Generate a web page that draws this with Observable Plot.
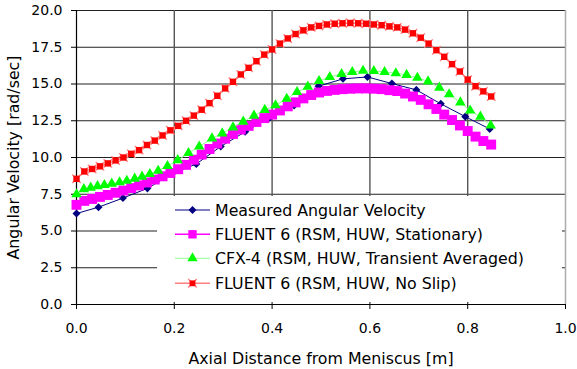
<!DOCTYPE html>
<html><head><meta charset="utf-8">
<script src="https://cdn.jsdelivr.net/npm/d3@7"></script>
<script src="https://cdn.jsdelivr.net/npm/@observablehq/plot@0.6"></script>
<style>
body{margin:0;background:#fff}
#wrap{position:relative;width:577px;height:369px}
</style></head>
<body><div id="wrap"></div>
<script>
const xTicks = [0, 0.2, 0.4, 0.6, 0.8, 1.0];
const yTicks = [0, 2.5, 5, 7.5, 10, 12.5, 15, 17.5, 20];
const xLabel = "Axial Distance from Meniscus [m]";
const yLabel = "Angular Velocity [rad/sec]";
const seriesNames = [
  "Measured Angular Velocity",
  "FLUENT 6 (RSM, HUW, Stationary)",
  "CFX-4 (RSM, HUW, Transient Averaged)",
  "FLUENT 6 (RSM, HUW, No Slip)"
];

const measuredX = [0, 0.045, 0.095, 0.145, 0.195, 0.245, 0.295, 0.345, 0.395, 0.445, 0.495, 0.545, 0.595, 0.645, 0.695, 0.745, 0.795, 0.845];
const measuredY = [6.19, 6.62, 7.24, 7.9, 8.88, 9.56, 10.75, 11.75, 12.7, 13.53, 14.85, 15.35, 15.48, 15.03, 14.6, 13.65, 12.78, 11.94];

const xFine = [0, 0.016, 0.032, 0.048, 0.064, 0.08, 0.096, 0.112, 0.128, 0.144, 0.16, 0.176, 0.192, 0.208, 0.224, 0.24, 0.256, 0.272, 0.288, 0.304, 0.32, 0.336, 0.352, 0.368, 0.384, 0.4, 0.416, 0.432, 0.448, 0.464, 0.48, 0.496, 0.512, 0.528, 0.544, 0.56, 0.576, 0.592, 0.608, 0.624, 0.64, 0.656, 0.672, 0.688, 0.704, 0.72, 0.736, 0.752, 0.768, 0.784, 0.8, 0.816, 0.832, 0.848];
const stationaryY = [6.78, 7.05, 7.18, 7.32, 7.45, 7.6, 7.75, 7.92, 8.1, 8.3, 8.5, 8.72, 8.95, 9.2, 9.5, 9.85, 10.2, 10.58, 10.95, 11.28, 11.6, 11.9, 12.15, 12.42, 12.68, 12.92, 13.2, 13.48, 13.75, 14.02, 14.25, 14.42, 14.53, 14.6, 14.65, 14.68, 14.7, 14.7, 14.68, 14.65, 14.58, 14.52, 14.35, 14.15, 13.92, 13.62, 13.3, 12.92, 12.55, 12.18, 11.8, 11.42, 11.12, 10.88];
const noSlipY = [8.55, 9.05, 9.22, 9.4, 9.6, 9.8, 10.0, 10.25, 10.5, 10.85, 11.15, 11.5, 11.85, 12.15, 12.5, 12.85, 13.25, 13.7, 14.2, 14.7, 15.15, 15.65, 16.1, 16.55, 17.0, 17.35, 17.75, 18.1, 18.4, 18.65, 18.85, 18.95, 19.05, 19.1, 19.13, 19.15, 19.13, 19.1, 19.05, 19.0, 18.92, 18.85, 18.7, 18.45, 18.15, 17.75, 17.3, 16.85, 16.35, 15.85, 15.3, 14.85, 14.5, 14.15];

const cfxX = [0, 0.015, 0.029, 0.043, 0.057, 0.072, 0.088, 0.103, 0.119, 0.134, 0.15, 0.167, 0.186, 0.207, 0.229, 0.251, 0.277, 0.298, 0.32, 0.341, 0.363, 0.385, 0.407, 0.43, 0.451, 0.473, 0.496, 0.518, 0.542, 0.564, 0.586, 0.608, 0.63, 0.653, 0.675, 0.697, 0.719, 0.742, 0.762, 0.785, 0.805, 0.826, 0.847];
const cfxY = [7.5, 7.85, 7.95, 8.05, 8.13, 8.22, 8.32, 8.42, 8.56, 8.7, 8.88, 9.1, 9.42, 9.82, 10.3, 10.75, 11.3, 11.64, 12.05, 12.44, 12.85, 13.24, 13.55, 14.0, 14.45, 14.82, 15.2, 15.48, 15.68, 15.82, 15.9, 15.88, 15.82, 15.73, 15.62, 15.42, 15.18, 14.75, 14.3, 13.75, 13.2, 12.78, 12.18];

const measured = measuredX.map((x, i) => ({x, y: measuredY[i]}));
const stationary = xFine.map((x, i) => ({x, y: stationaryY[i]}));
const noSlip = xFine.map((x, i) => ({x, y: noSlipY[i]}));
const cfx = cfxX.map((x, i) => ({x, y: cfxY[i]}));

const C = {navy: "#000080", mag: "#ff00ff", green: "#00ff00", greenLine: "#90ff90", red: "#ff0000", pink: "#ff8080"};

const chart = Plot.plot({
  width: 577, height: 369,
  marginLeft: 76, marginRight: 12, marginTop: 10, marginBottom: 65,
  style: {fontFamily: "DejaVu Sans", fontSize: "14px", background: "white", color: "black"},
  x: {domain: [0, 1]},
  y: {domain: [0, 20]},
  marks: [
    Plot.gridY(yTicks.slice(1), {stroke: "#222", strokeOpacity: 1, strokeWidth: 1.1}),
    Plot.gridX(xTicks.slice(1, -1), {stroke: "#555", strokeOpacity: 1, strokeWidth: 1.4}),
    Plot.gridX([1.0], {stroke: "#aaa", strokeOpacity: 1, strokeWidth: 1.5}),
    Plot.ruleX([0], {stroke: "black", strokeWidth: 1.2}),
    Plot.ruleY([0], {stroke: "black", strokeWidth: 1.2}),
    Plot.axisY(yTicks, {tickFormat: d => d.toFixed(1), tickSize: 5, tickPadding: 9, fontSize: 14, label: null}),
    Plot.axisX(xTicks, {tickFormat: d => d.toFixed(1), tickSize: 5, tickPadding: 14, fontSize: 14, label: null}),
    Plot.text([yLabel], {frameAnchor: "left", rotate: -90, dx: -69, fontSize: 15.8, textAnchor: "middle", lineAnchor: "top"}),
    Plot.text([xLabel], {frameAnchor: "bottom", dy: 54, fontSize: 15.8, textAnchor: "middle", lineAnchor: "middle"}),
    // measured
    Plot.line(measured, {x: "x", y: "y", stroke: C.navy, strokeWidth: 1}),
    Plot.dot(measured, {x: "x", y: "y", symbol: "square", rotate: 45, r: 3.2, fill: C.navy}),
    // stationary
    Plot.line(stationary, {x: "x", y: "y", stroke: C.mag, strokeWidth: 2}),
    Plot.dot(stationary, {x: "x", y: "y", symbol: "square", r: 5.6, fill: C.mag}),
    // cfx
    Plot.line(cfx, {x: "x", y: "y", stroke: C.greenLine, strokeWidth: 1}),
    Plot.dot(cfx, {x: "x", y: "y", symbol: "triangle", r: 3.9, fill: C.green}),
    // no slip
    Plot.line(noSlip, {x: "x", y: "y", stroke: C.pink, strokeWidth: 1.5}),
    Plot.dot(noSlip, {x: "x", y: "y", symbol: "times", r: 3.9, stroke: C.pink, strokeWidth: 1.4}),
    Plot.dot(noSlip, {x: "x", y: "y", symbol: "square", r: 3.6, fill: C.red})
  ]
});
const wrap = d3.select("#wrap");
wrap.node().appendChild(chart);

// legend overlay
const lg = wrap.append("svg")
  .style("position", "absolute").style("left", "157px").style("top", "196px")
  .attr("width", 405).attr("height", 106)
  .attr("font-family", "DejaVu Sans").attr("font-size", 15.8);
lg.append("rect").attr("width", 405).attr("height", 106).attr("fill", "white");
const rows = [14, 38.3, 62.3, 87.3];
const legendStyle = [
  {line: C.navy, lw: 1, sym: d3.symbolSquare, size: 32, fill: C.navy, rot: 45},
  {line: C.mag, lw: 1.5, sym: d3.symbolSquare, size: 70, fill: C.mag, rot: 0},
  {line: C.greenLine, lw: 1, sym: d3.symbolTriangle, size: 46, fill: C.green, rot: 0},
  {line: C.pink, lw: 1.5, sym: d3.symbolSquare, size: 34, fill: C.red, rot: 0}
];
seriesNames.forEach((name, i) => {
  const s = legendStyle[i], y = rows[i];
  lg.append("line").attr("x1", 18).attr("x2", 53).attr("y1", y).attr("y2", y)
    .attr("stroke", s.line).attr("stroke-width", s.lw);
  if (i === 3) {
    lg.append("path").attr("d", d3.symbol(d3.symbolTimes, 50)())
      .attr("transform", `translate(35.5,${y})`).attr("stroke", C.pink).attr("stroke-width", 1.4).attr("fill", "none");
  }
  lg.append("path").attr("d", d3.symbol(s.sym, s.size)())
    .attr("transform", `translate(35.5,${y}) rotate(${s.rot})`).attr("fill", s.fill);
  lg.append("text").attr("x", 58).attr("y", y).attr("dy", "0.36em").attr("fill", "black").text(name);
});
</script>
</body></html>
